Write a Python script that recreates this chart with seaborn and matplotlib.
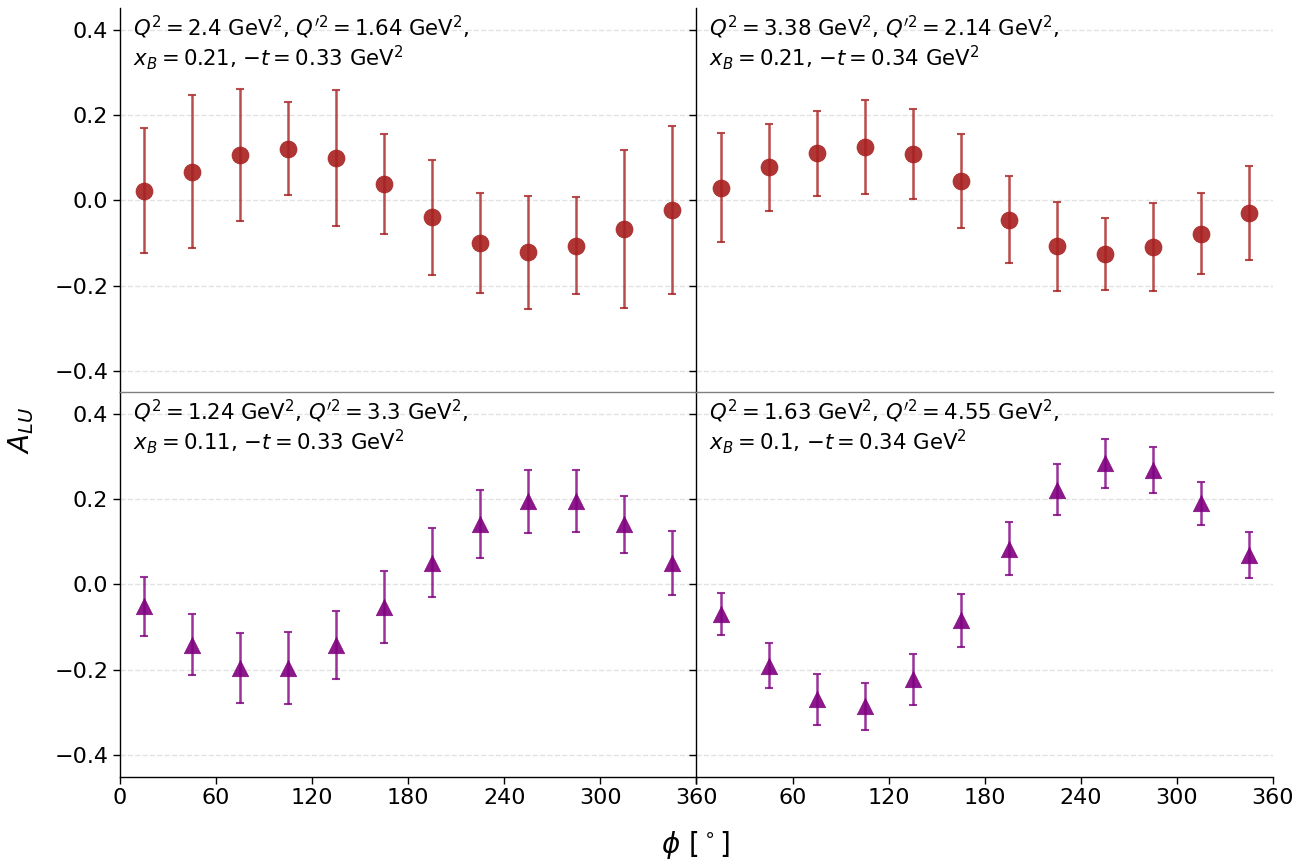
import numpy as np
import pandas as pd
import matplotlib
matplotlib.use("Agg")
import matplotlib.pyplot as plt
import seaborn as sns

# ---- data ----
phi = [15, 45, 75, 105, 135, 165, 195, 225, 255, 285, 315, 345]

tl_val = [0.023, 0.067, 0.106, 0.121, 0.099, 0.039, -0.040, -0.100, -0.122, -0.106, -0.067, -0.023]
tl_err = [0.146, 0.179, 0.155, 0.109, 0.160, 0.117, 0.135, 0.117, 0.132, 0.113, 0.186, 0.196]

tr_val = [0.030, 0.077, 0.110, 0.125, 0.108, 0.045, -0.045, -0.108, -0.126, -0.110, -0.078, -0.030]
tr_err = [0.127, 0.102, 0.099, 0.111, 0.106, 0.110, 0.101, 0.105, 0.084, 0.103, 0.095, 0.110]

bl_val = [-0.051, -0.141, -0.195, -0.195, -0.141, -0.052, 0.051, 0.142, 0.195, 0.195, 0.141, 0.051]
bl_err = [0.069, 0.072, 0.082, 0.084, 0.080, 0.084, 0.081, 0.080, 0.074, 0.073, 0.067, 0.075]

br_val = [-0.069, -0.190, -0.269, -0.285, -0.222, -0.084, 0.084, 0.222, 0.284, 0.268, 0.190, 0.068]
br_err = [0.050, 0.053, 0.060, 0.055, 0.060, 0.062, 0.062, 0.060, 0.057, 0.054, 0.050, 0.054]

labels = [
    r"$Q^2 = 2.4$ GeV$^2$, $Q^{\prime 2} = 1.64$ GeV$^2$," "\n" r"$x_B = 0.21$, $-t = 0.33$ GeV$^2$",
    r"$Q^2 = 3.38$ GeV$^2$, $Q^{\prime 2} = 2.14$ GeV$^2$," "\n" r"$x_B = 0.21$, $-t = 0.34$ GeV$^2$",
    r"$Q^2 = 1.24$ GeV$^2$, $Q^{\prime 2} = 3.3$ GeV$^2$," "\n" r"$x_B = 0.11$, $-t = 0.33$ GeV$^2$",
    r"$Q^2 = 1.63$ GeV$^2$, $Q^{\prime 2} = 4.55$ GeV$^2$," "\n" r"$x_B = 0.1$, $-t = 0.34$ GeV$^2$",
]
xticks = [0, 60, 120, 180, 240, 300, 360]
yticks = [-0.4, -0.2, 0.0, 0.2, 0.4]

sns.set_style("ticks")
plt.rcParams['font.family'] = ['DejaVu Sans']
plt.rcParams.update({
    "text.color": "black", "axes.labelcolor": "black",
    "xtick.color": "black", "ytick.color": "black", "axes.edgecolor": "black",
})

fig, axes = plt.subplots(2, 2, figsize=(13.06, 8.61), dpi=100)
fig.subplots_adjust(left=0.0919, right=0.9747, top=0.9904, bottom=0.0981, hspace=0, wspace=0)

red = "#a82020"
purple = "#800080"
panels = [
    (axes[0, 0], tl_val, tl_err, red, "o", labels[0]),
    (axes[0, 1], tr_val, tr_err, red, "o", labels[1]),
    (axes[1, 0], bl_val, bl_err, purple, "^", labels[2]),
    (axes[1, 1], br_val, br_err, purple, "^", labels[3]),
]

for i, (ax, val, err, col, mk, lab) in enumerate(panels):
    ax.patch.set_alpha(0)
    df = pd.DataFrame({"phi": phi, "A": val, "err": err})
    ax.errorbar(df["phi"], df["A"], yerr=df["err"], fmt="none", ecolor=col,
                elinewidth=1.8, capsize=3, capthick=1.5, alpha=0.8, zorder=2)
    sns.scatterplot(data=df, x="phi", y="A", ax=ax, color=col, marker=mk,
                    s=150 if mk == "o" else 140, edgecolor=col, linewidth=0.5,
                    alpha=0.9, zorder=3, legend=False)
    ax.set_xlim(0, 360)
    ax.set_ylim(-0.45, 0.45)
    ax.set_xticks(xticks)
    ax.set_yticks(yticks)
    ax.yaxis.grid(True, linestyle="--", color="#e2e2e2", linewidth=1)
    ax.set_axisbelow(True)
    ax.set_xlabel("")
    ax.set_ylabel("")
    ax.tick_params(axis="both", labelsize=16, direction="out", length=5, width=1,
                   colors="black")
    ax.text(0.022, 0.985, lab, transform=ax.transAxes, va="top", ha="left",
            fontsize=15.3, linespacing=1.1, color="black")
    ax.spines["top"].set_visible(False)
    ax.spines["right"].set_visible(False)
    ax.spines["left"].set_color("black")
    ax.spines["left"].set_linewidth(1.0)
    if i < 2:
        ax.set_zorder(3)
        ax.spines["bottom"].set_color("#808080")
        ax.spines["bottom"].set_linewidth(1.0)
        ax.tick_params(axis="x", bottom=False, labelbottom=False)
    else:
        ax.spines["bottom"].set_color("black")
        ax.spines["bottom"].set_linewidth(1.0)
    if i % 2 == 1:
        ax.tick_params(axis="y", labelleft=False)
    else:
        ax.set_yticklabels([f"{t:.1f}".replace("-", "\u2212") for t in yticks])

axes[1, 0].set_xticklabels([str(t) for t in xticks])
axes[1, 1].set_xticklabels([""] + [str(t) for t in xticks[1:]])

fig.text(0.016, 0.5, r"$A_{LU}$", rotation=90, fontsize=20, va="center", ha="center")
fig.text(0.533, 0.019, r"$\phi$ [$^\circ$]", fontsize=20, va="center", ha="center")

fig.savefig("out.png", dpi=100, facecolor="white")
